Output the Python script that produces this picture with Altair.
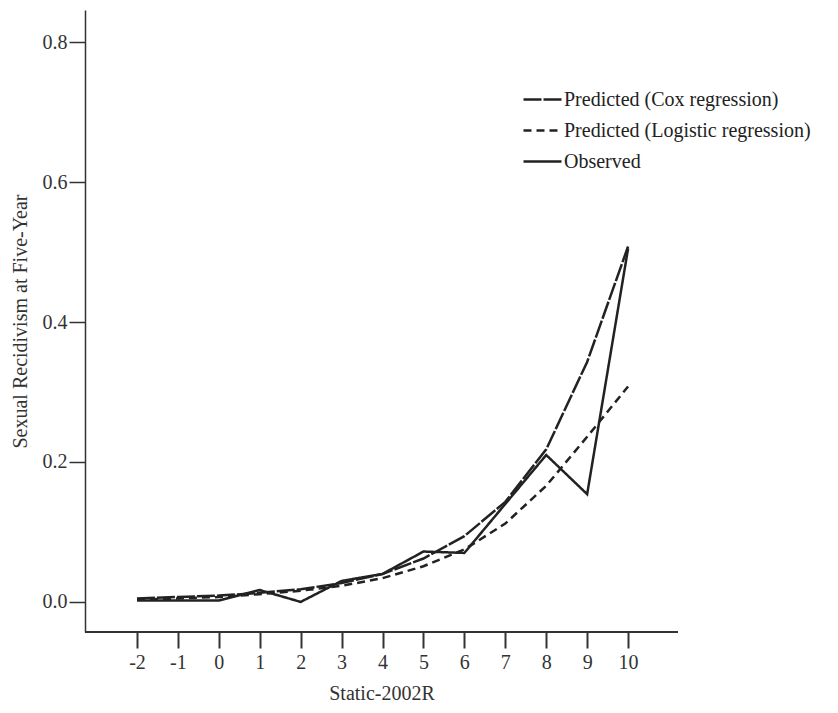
import altair as alt
import pandas as pd

scores = [-2, -1, 0, 1, 2, 3, 4, 5, 6, 7, 8, 9, 10]
cox = [0.005, 0.007, 0.009, 0.013, 0.018, 0.027, 0.040, 0.062, 0.094, 0.143, 0.218, 0.343, 0.508]
logistic = [0.003, 0.005, 0.007, 0.011, 0.016, 0.023, 0.034, 0.051, 0.075, 0.112, 0.166, 0.236, 0.308]
observed = [0.002, 0.002, 0.002, 0.017, 0.000, 0.030, 0.040, 0.072, 0.070, 0.140, 0.210, 0.154, 0.505]
series_names = ["Predicted (Cox regression)", "Predicted (Logistic regression)", "Observed"]

rows = []
for name, vals in zip(series_names, [cox, logistic, observed]):
    for s, v in zip(scores, vals):
        rows.append({"score": s, "value": v, "series": name})
df = pd.DataFrame(rows)

FONT = "Liberation Serif"
INK = "#222222"
W, H = 593, 622

lines = alt.Chart(df).mark_line(color=INK).encode(
    x=alt.X("score:Q",
            scale=alt.Scale(domain=[-3.27, 11.22], nice=False, zero=False),
            axis=alt.Axis(values=scores, title="Static-2002R", domain=False,
                          labelExpr="toString(datum.value)",
                          grid=False, tickSize=16, tickWidth=2, tickColor="#333",
                          labelPadding=4, labelFontSize=20, labelFont=FONT,
                          labelColor="#333", titleFont=FONT, titleFontSize=20,
                          titleFontWeight="normal", titleColor="#333",
                          titlePadding=11)),
    y=alt.Y("value:Q",
            scale=alt.Scale(domain=[-0.043, 0.846], nice=False, zero=False),
            axis=alt.Axis(values=[0, 0.2, 0.4, 0.6, 0.8], format=".1f",
                          title="Sexual Recidivism at Five-Year", grid=False,
                          tickSize=16, tickWidth=1.5, tickColor="#333",
                          domainColor="#333", domainWidth=1.5,
                          labelPadding=2, labelFontSize=20, labelFont=FONT,
                          labelColor="#333", titleFont=FONT, titleFontSize=20,
                          titleFontWeight="normal", titleColor="#333",
                          titlePadding=12)),
    strokeDash=alt.StrokeDash("series:N",
        scale=alt.Scale(domain=series_names, range=[[18, 2], [8, 5], [1, 0]]),
        sort=series_names,
        legend=alt.Legend(title=None, orient="none", legendX=437, legendY=69,
                          symbolType="stroke", symbolSize=1444,
                          symbolStrokeColor=INK, symbolStrokeWidth=2.5,
                          labelFont=FONT, labelFontSize=20, labelColor="#222",
                          labelOffset=1, rowPadding=-10, labelLimit=400)),
    strokeWidth=alt.StrokeWidth("series:N",
        scale=alt.Scale(domain=series_names, range=[2.5, 2.5, 1.6]),
        legend=None),
    order="score:Q",
)

xaxis_line = alt.Chart(df).mark_rule(color="#333", strokeWidth=1.5).encode(
    x=alt.value(0), x2=alt.value(W), y=alt.value(H)
)

chart = alt.layer(lines, xaxis_line).properties(
    width=W, height=H,
    autosize=alt.AutoSizeParams(type="none"),
    padding={"left": 77, "top": 2, "right": 152, "bottom": 73},
).configure_view(stroke=None)

chart.save("out.html", embed_options={"renderer": "svg", "actions": False})
